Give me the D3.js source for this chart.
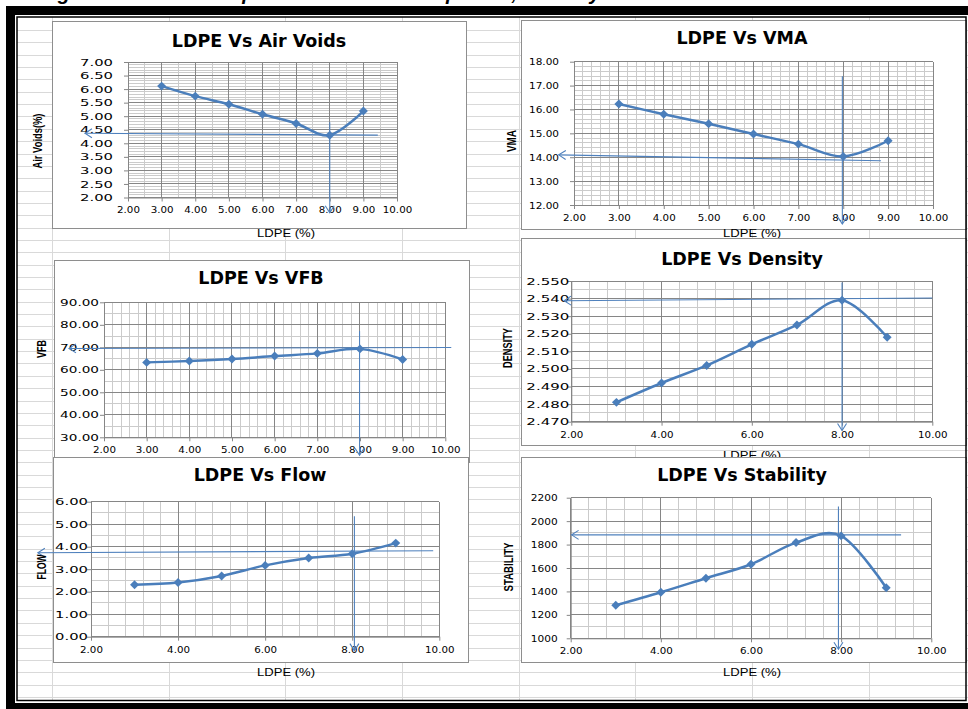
<!DOCTYPE html>
<html>
<head>
<meta charset="utf-8">
<script src="https://cdn.jsdelivr.net/npm/d3@7"></script>
<style>
  body { margin: 0; background: #fff; }
  svg { display: block; }
</style>
</head>
<body>
<div id="sheet"></div>
<script>
// LDPE content (%) on every x axis
const ldpe = [3, 4, 5, 6, 7, 8, 9];

// series
const airVoids  = [6.11, 5.74, 5.44, 5.07, 4.73, 4.30, 5.19];
const vma       = [16.23, 15.80, 15.40, 14.97, 14.55, 14.03, 14.69];
const vfb       = [63.3, 63.9, 64.8, 66.1, 67.3, 69.3, 64.6];
const density   = [2.481, 2.492, 2.502, 2.514, 2.525, 2.539, 2.518];
const flow      = [2.31, 2.41, 2.70, 3.17, 3.50, 3.69, 4.16];
const stability = [1282, 1393, 1513, 1632, 1817, 1874, 1432];

// tick labels
const xTicksEvery1   = [2, 3, 4, 5, 6, 7, 8, 9, 10];
const xTicksEvery2   = [2, 4, 6, 8, 10];
const airVoidsTicks  = [2, 2.5, 3, 3.5, 4, 4.5, 5, 5.5, 6, 6.5, 7];
const vmaTicks       = [12, 13, 14, 15, 16, 17, 18];
const vfbTicks       = [30, 40, 50, 60, 70, 80, 90];
const densityTicks   = [2.47, 2.48, 2.49, 2.50, 2.51, 2.52, 2.53, 2.54, 2.55];
const flowTicks      = [0, 1, 2, 3, 4, 5, 6];
const stabilityTicks = [1000, 1200, 1400, 1600, 1800, 2000, 2200];

// hand-drawn optimum guides (data units): horizontal [left, right], vertical x from top to bottom
const airVoidsGuide  = { h: [[0.72, 4.37], [9.43, 4.30]], v: [8.0, 4.78, 1.44] };
const vmaGuide       = { h: [[1.66, 14.10], [8.84, 13.85]], v: [7.98, 17.39, 11.2] };
const vfbGuide       = { h: [[1.18, 69.5], [10.14, 69.9]], v: [7.99, 77.2, 22] };
const densityGuide   = { h: [[1.84, 2.5388], [10.0, 2.5403]], v: [8.0, 2.5491, 2.465] };
const flowGuide      = { h: [[0.78, 3.73], [9.86, 3.82]], v: [8.05, 5.35, -0.62] };
const stabilityGuide = { h: [[2.02, 1883], [9.33, 1883]], v: [7.94, 2125, 906] };

const W = 968, H = 709;
const seriesColor = '#4a7ebb';
const guideColor = '#4f81bd';
const axisColor = '#868686';
const minorColor = '#cbcbcb';

const svg = d3.select('#sheet').append('svg')
    .attr('width', W)
    .attr('height', H);

// open chevron for the guide arrows
svg.append('defs').append('marker')
    .attr('id', 'chev')
    .attr('viewBox', '-10 -6 12 12')
    .attr('refX', 0).attr('refY', 0)
    .attr('markerWidth', 12).attr('markerHeight', 12)
    .attr('markerUnits', 'userSpaceOnUse')
    .attr('orient', 'auto')
  .append('path')
    .attr('d', 'M-7,-4.5L0,0L-7,4.5')
    .attr('fill', 'none')
    .attr('stroke', guideColor)
    .attr('stroke-width', 1.1);

// spreadsheet cells behind the charts
const cells = svg.append('g').attr('stroke', '#d9d9d9').attr('stroke-width', 1);
d3.range(52, W, 116.67).forEach(cx => {
    cells.append('line').attr('x1', Math.round(cx) + 0.5).attr('x2', Math.round(cx) + 0.5)
        .attr('y1', 17).attr('y2', 700);
});
d3.range(30, 700, 12.35).forEach(cy => {
    cells.append('line').attr('y1', Math.round(cy) + 0.5).attr('y2', Math.round(cy) + 0.5)
        .attr('x1', 17).attr('x2', W);
});

const panels = [
    { title: 'LDPE Vs Air Voids', values: airVoids, yTicks: airVoidsTicks, xTicks: xTicksEvery1,
      yFmt: '.2f', xMajor: 1, xMinor: 0.5, yMajor: 0.5, yMinor: 0.1, guide: airVoidsGuide,
      box: [52, 21, 466, 228], plot: [128, 62, 397, 197.5], titleAt: [259, 46.5],
      yName: 'Air Voids(%)', yNameAt: [37, 141, 55], xNameAt: [286, 237], ySx: 1.48, yGap: 15 },
    { title: 'LDPE Vs VMA', values: vma, yTicks: vmaTicks, xTicks: xTicksEvery1,
      yFmt: '.2f', xMajor: 1, xMinor: 0.2, yMajor: 1, yMinor: 0.2, guide: vmaGuide,
      box: [521, 20, 966, 229], plot: [574, 61.7, 933, 205], titleAt: [742, 43.5],
      yName: 'VMA', yNameAt: [511, 141, 22], xNameAt: [752, 237], ySx: 1.05, yGap: 15 },
    { title: 'LDPE Vs VFB', values: vfb, yTicks: vfbTicks, xTicks: xTicksEvery1,
      yFmt: '.2f', xMajor: 1, xMinor: 0.2, yMajor: 10, yMinor: 5, guide: vfbGuide,
      box: [54, 260, 469, 462], plot: [104, 302.3, 445.3, 437.3], titleAt: [261, 283.5],
      yName: 'VFB', yNameAt: [41, 349, 18], xNameAt: null, ySx: 1.36, yGap: 5 },
    { title: 'LDPE Vs Density', values: density, yTicks: densityTicks, xTicks: xTicksEvery2,
      yFmt: '.3f', xMajor: 2, xMinor: 0.4, yMajor: 0.01, yMinor: 0.005, guide: densityGuide,
      box: [521, 238, 966, 445], plot: [571.3, 281, 932.3, 421.7], titleAt: [742, 264.5],
      yName: 'DENSITY', yNameAt: [507, 348, 40], xNameAt: [752, 459], ySx: 1.5, yGap: 2 },
    { title: 'LDPE Vs Flow', values: flow, yTicks: flowTicks, xTicks: xTicksEvery2,
      yFmt: '.2f', xMajor: 2, xMinor: 0.4, yMajor: 1, yMinor: 0.5, guide: flowGuide,
      box: [53, 457, 468, 662], plot: [91, 501.7, 439.3, 636.7], titleAt: [260, 481],
      yName: 'FLOW', yNameAt: [41, 567, 25], xNameAt: [286, 676], ySx: 1.48, yGap: 3 },
    { title: 'LDPE Vs Stability', values: stability, yTicks: stabilityTicks, xTicks: xTicksEvery2,
      yFmt: 'd', xMajor: 2, xMinor: 0.4, yMajor: 200, yMinor: 100, guide: stabilityGuide,
      box: [521, 457, 966, 662], plot: [570.7, 497.7, 931.3, 638.3], titleAt: [742, 481],
      yName: 'STABILITY', yNameAt: [508, 567, 49], xNameAt: [752, 676], ySx: 1.06, yGap: 13 }
];

function steps(d0, d1, step) {
    const n = Math.round((d1 - d0) / step);
    return d3.range(n + 1).map(i => d0 + i * step);
}
function onMajor(v, d0, major) {
    const k = (v - d0) / major;
    return Math.abs(k - Math.round(k)) < 1e-6;
}

function drawPanel(p) {
    const g = svg.append('g');
    const [bx0, by0, bx1, by1] = p.box;
    const [px0, py0, px1, py1] = p.plot;

    g.append('rect')
        .attr('x', bx0 + 0.5).attr('y', by0 + 0.5)
        .attr('width', bx1 - bx0).attr('height', by1 - by0)
        .attr('fill', '#fff')
        .attr('stroke', '#8e8e8e');

    const yDom = d3.extent(p.yTicks);
    const x = d3.scaleLinear().domain([2, 10]).range([px0, px1]);
    const y = d3.scaleLinear().domain(yDom).range([py1, py0]);

    // gridlines: minor first, then major on top
    const xs = steps(2, 10, p.xMinor);
    const ys = steps(yDom[0], yDom[1], p.yMinor);
    const grid = g.append('g').attr('shape-rendering', 'crispEdges');
    [false, true].forEach(major => {
        xs.filter(v => onMajor(v, 2, p.xMajor) === major).forEach(v => {
            grid.append('line').attr('x1', x(v)).attr('x2', x(v)).attr('y1', py0).attr('y2', py1)
                .attr('stroke', major ? axisColor : minorColor);
        });
        ys.filter(v => onMajor(v, yDom[0], p.yMajor) === major).forEach(v => {
            grid.append('line').attr('y1', y(v)).attr('y2', y(v)).attr('x1', px0).attr('x2', px1)
                .attr('stroke', major ? axisColor : minorColor);
        });
    });

    // axes
    const ya = g.append('g')
        .attr('transform', `translate(${px0},0)`)
        .call(d3.axisLeft(y).tickValues(p.yTicks).tickFormat(d3.format(p.yFmt)).tickSize(4).tickSizeOuter(0));
    const xa = g.append('g')
        .attr('transform', `translate(0,${py1})`)
        .call(d3.axisBottom(x).tickValues(p.xTicks).tickFormat(d3.format('.2f')).tickSize(4).tickSizeOuter(0));
    [ya, xa].forEach(a => {
        a.attr('font-family', '"DejaVu Sans", Verdana, sans-serif').attr('font-size', 10).attr('color', '#000');
        a.select('.domain').attr('stroke', axisColor);
        a.selectAll('.tick line').attr('stroke', axisColor);
    });
    ya.selectAll('text')
        .attr('transform', `scale(${p.ySx},0.85)`)
        .attr('x', -p.yGap / p.ySx)
        .attr('dy', '0.36em');
    xa.selectAll('text')
        .attr('transform', 'scale(1.03,0.85)')
        .attr('y', 16 / 0.85)
        .attr('dy', 0);

    // series
    const line = d3.line()
        .x((d, i) => x(ldpe[i]))
        .y(d => y(d))
        .curve(d3.curveCatmullRom.alpha(0));
    g.append('path')
        .datum(p.values)
        .attr('d', line)
        .attr('fill', 'none')
        .attr('stroke', seriesColor)
        .attr('stroke-width', 2.5);
    g.selectAll('.pt')
        .data(p.values)
        .join('path')
        .attr('class', 'pt')
        .attr('d', d3.symbol(d3.symbolSquare, 40))
        .attr('transform', (d, i) => `translate(${x(ldpe[i])},${y(d)}) rotate(45)`)
        .attr('fill', seriesColor);

    // guides drawn over the chart
    const gd = p.guide;
    g.append('line')
        .attr('x1', x(gd.h[1][0])).attr('y1', y(gd.h[1][1]))
        .attr('x2', x(gd.h[0][0])).attr('y2', y(gd.h[0][1]))
        .attr('stroke', guideColor).attr('stroke-width', 1.1)
        .attr('marker-end', 'url(#chev)');
    g.append('line')
        .attr('x1', x(gd.v[0])).attr('y1', y(gd.v[1]))
        .attr('x2', x(gd.v[0])).attr('y2', y(gd.v[2]))
        .attr('stroke', guideColor).attr('stroke-width', 1.1)
        .attr('marker-end', 'url(#chev)');

    // title and axis names
    g.append('text')
        .attr('x', p.titleAt[0]).attr('y', p.titleAt[1])
        .attr('text-anchor', 'middle')
        .attr('font-family', '"DejaVu Sans", Verdana, sans-serif')
        .attr('font-weight', 'bold')
        .attr('font-size', 17.5)
        .text(p.title);
    g.append('text')
        .attr('transform', `translate(${p.yNameAt[0]},${p.yNameAt[1]}) rotate(-90)`)
        .attr('text-anchor', 'middle')
        .attr('dy', '0.35em')
        .attr('font-family', '"Liberation Sans", Arial, sans-serif')
        .attr('font-weight', 'bold')
        .attr('font-size', 13)
        .attr('textLength', p.yNameAt[2])
        .attr('lengthAdjust', 'spacingAndGlyphs')
        .text(p.yName);
    if (p.xNameAt) {
        g.append('text')
            .attr('x', p.xNameAt[0]).attr('y', p.xNameAt[1])
            .attr('text-anchor', 'middle')
            .attr('font-family', '"Liberation Sans", Arial, sans-serif')
            .attr('font-size', 10.5)
            .attr('textLength', 58)
            .attr('lengthAdjust', 'spacingAndGlyphs')
            .text('LDPE (%)');
    }
}

panels.forEach(drawPanel);

// caption of the page, mostly cut off by the top of the picture
svg.append('text')
    .attr('x', 40).attr('y', 0)
    .attr('font-family', '"Liberation Sans", Arial, sans-serif')
    .attr('font-weight', 'bold')
    .attr('font-style', 'italic')
    .attr('font-size', 20)
    .text('Fig. 4.3: Marshall Graph for Volumetric Properties, Stability and Flow for LDPE');

// double black frame of the figure
svg.append('rect')
    .attr('x', 10.5).attr('y', 10.5)
    .attr('width', 975 - 10.5).attr('height', 707.5 - 10.5)
    .attr('fill', 'none').attr('stroke', '#000').attr('stroke-width', 9);
svg.append('rect')
    .attr('x', 17).attr('y', 17)
    .attr('width', 966 - 17).attr('height', 700.5 - 17)
    .attr('fill', 'none').attr('stroke', '#000').attr('stroke-width', 1.5);
</script>
</body>
</html>
